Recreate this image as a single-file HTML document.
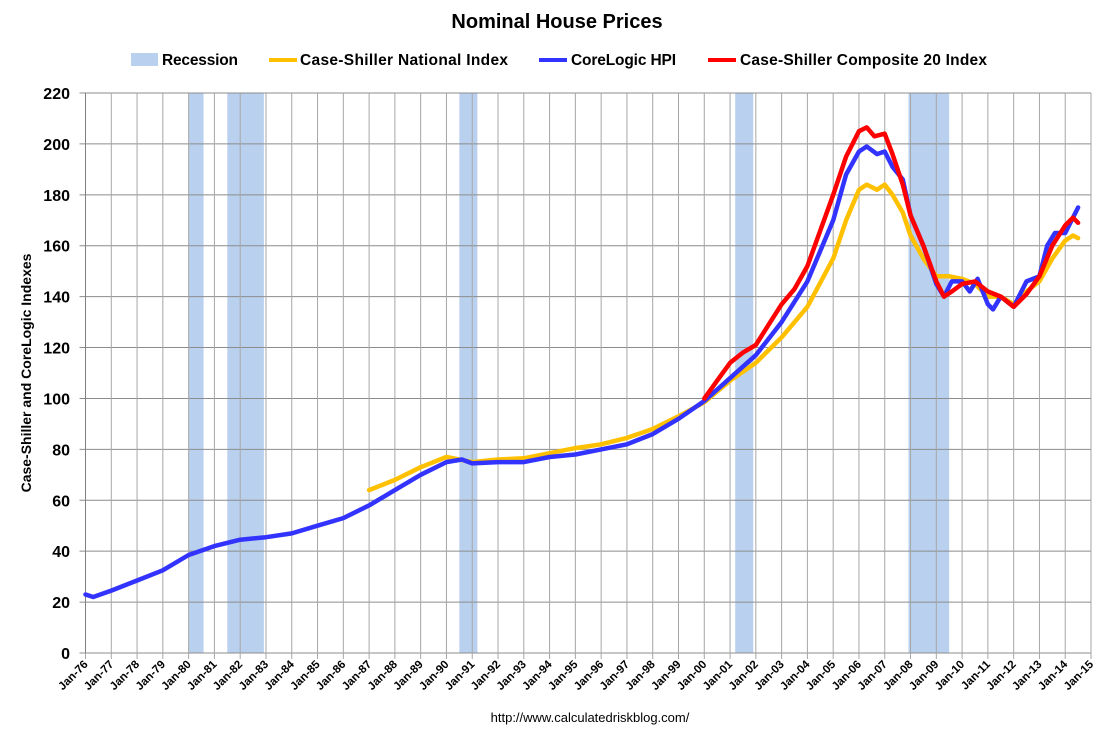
<!DOCTYPE html>
<html><head><meta charset="utf-8"><style>
body{margin:0;background:#fff;font-family:"Liberation Sans",Arial,sans-serif;}
svg text{font-family:"Liberation Sans",Arial,sans-serif;}
</style></head><body>
<svg id="c" width="1115" height="741" xmlns="http://www.w3.org/2000/svg">
<rect width="1115" height="741" fill="#fff"/>
<text x="557" y="28" text-anchor="middle" font-size="20" font-weight="bold">Nominal House Prices</text>
<g id="legend" font-size="15.5" font-weight="bold">
<rect x="131" y="53" width="27" height="13" fill="#b9d1ee"/>
<text x="162" y="65" textLength="76">Recession</text>
<line x1="269" y1="60" x2="297" y2="60" stroke="#ffc000" stroke-width="4"/>
<text x="300" y="65" textLength="208">Case-Shiller National Index</text>
<line x1="539" y1="60" x2="567" y2="60" stroke="#3333ff" stroke-width="4"/>
<text x="571" y="65" textLength="105">CoreLogic HPI</text>
<line x1="708" y1="60" x2="736" y2="60" stroke="#ff0000" stroke-width="4"/>
<text x="740" y="65" textLength="247">Case-Shiller Composite 20 Index</text>
</g>
<text transform="translate(31,373) rotate(-90)" text-anchor="middle" font-size="14" font-weight="bold">Case-Shiller and CoreLogic Indexes</text>
<text x="590" y="722" text-anchor="middle" font-size="13">http://www.calculatedriskblog.com/</text>
<g id="plot"></g>
</svg>
<script>
const recessions=[[1980.0,1980.58],[1981.5,1982.92],[1990.5,1991.2],[2001.2,2001.9],[2007.92,2009.5]];
const yTicks=[0,20,40,60,80,100,120,140,160,180,200,220];
const years=[];for(let y=1976;y<=2015;y++)years.push(y);
const corelogicX=[1976,1976.3,1977,1978,1979,1980,1981,1982,1983,1984,1985,1986,1987,1988,1989,1990,1990.6,1991,1992,1993,1994,1995,1996,1997,1998,1999,2000,2001,2002,2003,2004,2005,2005.5,2006,2006.3,2006.7,2007,2007.3,2007.7,2008,2008.5,2009,2009.3,2009.6,2010,2010.3,2010.6,2011,2011.2,2011.5,2012,2012.5,2013,2013.3,2013.6,2014,2014.5];
const corelogicY=[23,22,24.5,28.5,32.5,38.5,42,44.5,45.5,47,50,53,58,64,70,75,76,74.5,75,75,77,78,80,82,86,92,99,108,117,130,146,170,188,197,199,196,197,191,186,172,160,145,140,146,146,142,147,137,135,140,136,146,148,160,165,165,175];
const nationalX=[1987,1988,1989,1990,1991,1992,1993,1994,1995,1996,1997,1998,1999,2000,2001,2002,2003,2004,2005,2005.5,2006,2006.3,2006.7,2007,2007.3,2007.7,2008,2008.5,2009,2009.5,2010,2010.5,2011,2011.5,2012,2012.5,2013,2013.5,2014,2014.3,2014.5];
const nationalY=[64,68,73,77,75,76,76.5,78.5,80.5,82,84.5,88,93,98.5,107,114,124,136,155,170,182,184,182,184,180,173,164,155,148,148,147,145,140,140,137,142,146,155,162,164,163];
const compositeX=[2000,2000.5,2001,2001.5,2002,2002.5,2003,2003.5,2004,2004.5,2005,2005.5,2006,2006.3,2006.6,2007,2007.3,2007.7,2008,2008.5,2009,2009.3,2009.6,2010,2010.5,2011,2011.5,2012,2012.5,2013,2013.5,2014,2014.3,2014.5];
const compositeY=[100,107,114,118,121,129,137,143,152,166,180,195,205,206.5,203,204,196,184,172,160,146,140,142,145,146,142,140,136,141,148,160,168,171,169];

const L=85.5,R=1091,T=93,B=653;
const xs=y=>L+(y-1976)*(R-L)/39;
const ys=v=>B-v*(B-T)/220;
const NS="http://www.w3.org/2000/svg";
const g=document.getElementById('plot');
function mk(t,a){const e=document.createElementNS(NS,t);for(const k in a)e.setAttribute(k,a[k]);g.appendChild(e);return e;}
recessions.forEach(r=>{const e=mk('rect',{x:xs(r[0]),y:T,width:xs(r[1])-xs(r[0]),height:B-T,fill:'#b9d1ee'});

});
yTicks.forEach(v=>{const l=mk('line',{x1:L-6,x2:R,y1:ys(v),y2:ys(v),stroke:'#8c8c8c','stroke-width':1});


const t=mk('text',{x:70,y:ys(v)+6,'text-anchor':'end','font-size':16,'font-weight':'bold'});t.textContent=v;

});
years.forEach(y=>{const x=xs(y);const l=mk('line',{x1:x,x2:x,y1:T,y2:B+6,stroke:'#a6a6a6','stroke-width':1});


const t=mk('text',{x:x+3,y:B+12,'text-anchor':'end','font-size':11.5,'font-weight':'bold',transform:`rotate(-45 ${x+3} ${B+12})`});
t.textContent='Jan-'+String(y%100).padStart(2,'0');

});
mk('line',{x1:L,x2:L,y1:T,y2:B,stroke:'#7f7f7f'});
function series(X,Y,c,n){const d=X.map((x,i)=>(i?'L':'M')+xs(x).toFixed(1)+','+ys(Y[i]).toFixed(1)).join('');
const p=mk('path',{d:d,fill:'none',stroke:c,'stroke-width':4.5,'stroke-linejoin':'round','stroke-linecap':'round'});

}
series(nationalX,nationalY,'#ffc000','series-national');
series(corelogicX,corelogicY,'#3333ff','series-corelogic');
series(compositeX,compositeY,'#ff0000','series-composite');
</script>
</body></html>
